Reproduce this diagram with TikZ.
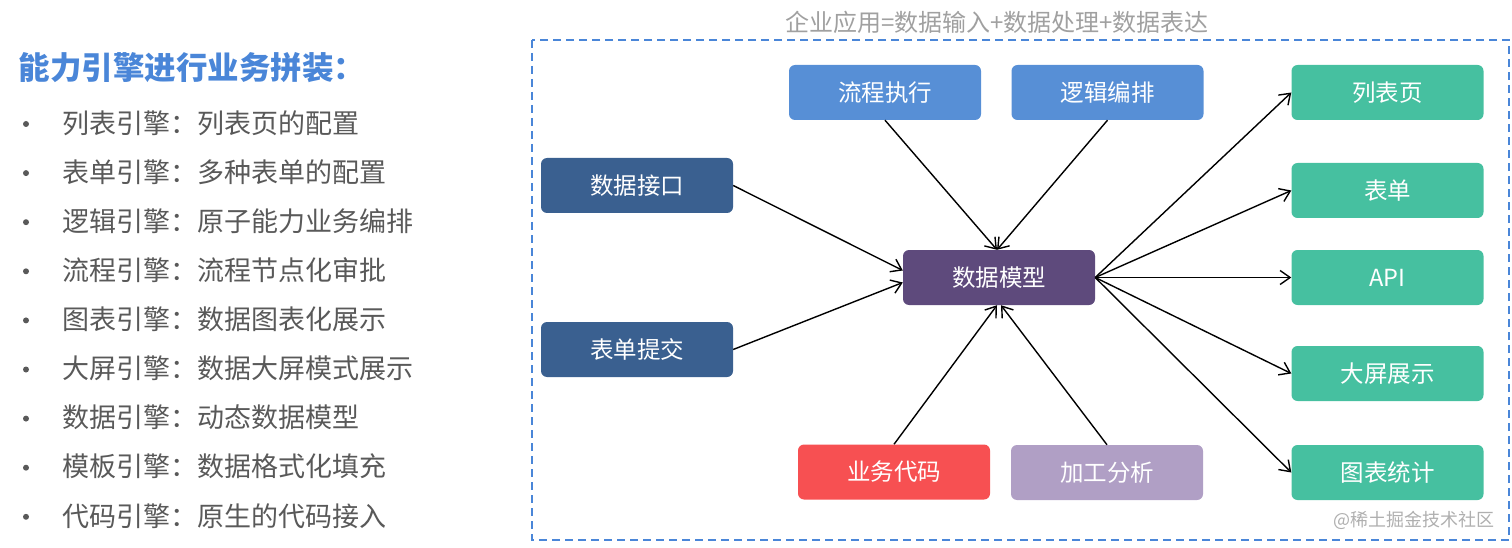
\documentclass[tikz,border=0pt]{standalone}
\usepackage{fontspec}
\setmainfont{Noto Sans CJK SC}
\usepackage{tikz}
\usetikzlibrary{arrows.meta,positioning}

\definecolor{titleblue}{RGB}{74,134,216}
\definecolor{listgray}{RGB}{89,89,89}
\definecolor{capgray}{RGB}{160,160,160}
\definecolor{markgray}{RGB}{175,175,175}
\definecolor{flowblue}{RGB}{87,143,214}
\definecolor{inblue}{RGB}{58,96,144}
\definecolor{modelpurple}{RGB}{94,74,124}
\definecolor{codered}{RGB}{247,80,82}
\definecolor{lavender}{RGB}{176,159,197}
\definecolor{outgreen}{RGB}{70,192,160}

\begin{document}
\begin{tikzpicture}[x=1pt,y=-1pt,>={Straight Barb[length=10pt,width=14pt]},
  box/.style={rounded corners=6pt,minimum width=192pt,minimum height=55pt,inner sep=0pt,
    text=white,font=\fontsize{23.5}{26}\selectfont},
  item/.style={anchor=west,text=listgray,font=\fontsize{27}{31}\selectfont},
  link/.style={->,line width=1.4pt}]
\useasboundingbox (0,0) rectangle (1512,548);

% left list
\node[anchor=west,text=titleblue,font=\fontsize{31.5}{35}\selectfont\bfseries] (head) at (15,68) {能力引擎进行业务拼装：};
\foreach \t [count=\i] in {列表引擎：列表页的配置,表单引擎：多种表单的配置,逻辑引擎：原子能力业务编排,
  流程引擎：流程节点化审批,图表引擎：数据图表化展示,大屏引擎：数据大屏模式展示,
  数据引擎：动态数据模型,模板引擎：数据格式化填充,代码引擎：原生的代码接入}{
  \node[item] (item\i) at (58.5,123+49.1*\i-49.1) {\t};
  \node[circle,fill=listgray,inner sep=0pt,minimum size=6pt] (dot\i) at (26,124+49.1*\i-49.1) {};
}

% frame
\draw[titleblue,line width=1.6pt,dash pattern=on 8pt off 5pt] (532,40) rectangle (1509,540);
\node[text=capgray,font=\fontsize{24}{27}\selectfont] (caption) at (997,22) {企业应用=数据输入+数据处理+数据表达};
\node[anchor=east,text=markgray,font=\fontsize{18}{20}\selectfont] (mark) at (1498,520) {@稀土掘金技术社区};

% boxes
\node[box,fill=modelpurple] (model) at (999,277.5) {数据模型};
\node[box,fill=flowblue] (flow) at (885,92.5) {流程执行};
\node[box,fill=flowblue] (logic) at (1107.5,92.5) {逻辑编排};
\node[box,fill=inblue] (api_in) at (637,185.5) {数据接口};
\node[box,fill=inblue] (form_in) at (637,349.5) {表单提交};
\node[box,fill=codered] (code) at (894,472) {业务代码};
\node[box,fill=lavender] (calc) at (1107,472.5) {加工分析};
\node[box,fill=outgreen] (list) at (1387.5,92.5) {列表页};
\node[box,fill=outgreen] (form) at (1387.5,190.5) {表单};
\node[box,fill=outgreen] (api) at (1387.5,277.5) {API};
\node[box,fill=outgreen] (screen) at (1387.5,373.5) {大屏展示};
\node[box,fill=outgreen] (chart) at (1387.5,472.5) {图表统计};

% arrows
\draw[link] (api_in.east) -- ([yshift=7pt]model.west);
\draw[link] (form_in.east) -- ([yshift=-5pt]model.west);
\draw[link] (flow.south) -- ([xshift=-2pt]model.north);
\draw[link] (logic.south) -- ([xshift=-2pt]model.north);
\draw[link] (code.north) -- ([xshift=-2pt]model.south);
\draw[link] (calc.north) -- ([xshift=2pt]model.south);
\draw[link] (model.east) -- (list.west);
\draw[link] (model.east) -- (form.west);
\draw[link] (model.east) -- (api.west);
\draw[link] (model.east) -- (screen.west);
\draw[link] (model.east) -- (chart.west);
\end{tikzpicture}
\end{document}
